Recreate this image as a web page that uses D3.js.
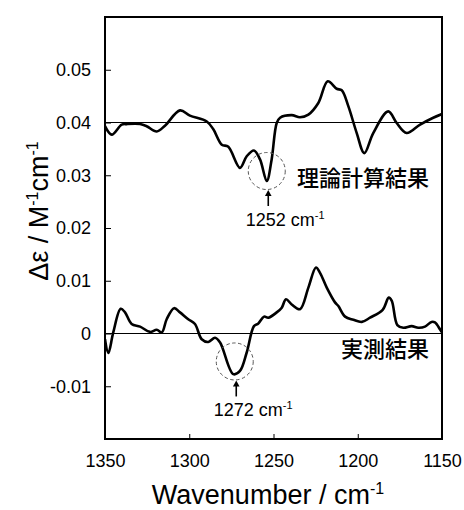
<!DOCTYPE html>
<html>
<head>
<meta charset="utf-8">
<script src="https://cdn.jsdelivr.net/npm/d3@7"></script>
<style>
  html, body { margin: 0; padding: 0; background: #fff; }
  svg { display: block; }
  text { font-family: "Liberation Sans", Arial, sans-serif; fill: #000; }
</style>
</head>
<body>
<svg id="chart" width="464" height="510"></svg>
<script>
// ---- data ----
const xTicks = [1350, 1300, 1250, 1200, 1150];
const yTicks = [-0.01, 0, 0.01, 0.02, 0.03, 0.04, 0.05];
const yTickLabels = ["-0.01", "0", "0.01", "0.02", "0.03", "0.04", "0.05"];
const refLines = [0.04, 0];

// theoretical (offset +0.04)
const calcWn = [1350, 1346.0, 1340.1, 1337.1, 1329.2, 1325.3, 1319.3, 1314.4, 1305.5, 1299.6,
  1289.6, 1285.7, 1280.7, 1276.8, 1269.9, 1265.9, 1261.6, 1258.0, 1254.0, 1251.1,
  1248.1, 1246.1, 1239.2, 1234.3, 1229.3, 1223.4, 1217.8, 1212.5, 1209.5, 1205.6,
  1200.6, 1196.1, 1190.8, 1181.9, 1176.9, 1171.0, 1163.0, 1155.2, 1150];
const calcVal = [0.0393, 0.0377, 0.0396, 0.0397, 0.0397, 0.0393, 0.0383, 0.0394, 0.0423, 0.0413,
  0.0402, 0.0387, 0.0358, 0.0354, 0.0314, 0.0336, 0.0347, 0.0330, 0.0289, 0.0330,
  0.0399, 0.0409, 0.0414, 0.0410, 0.0415, 0.0437, 0.0478, 0.0464, 0.0461, 0.0431,
  0.0380, 0.0342, 0.0380, 0.0421, 0.0399, 0.0380, 0.0396, 0.0409, 0.0416];

// experimental
const expWn = [1350, 1348.0, 1345.1, 1340.7, 1338.1, 1334.2, 1329.2, 1323.3, 1319.3, 1316.3,
  1313.4, 1309.0, 1305.5, 1300.6, 1296.6, 1292.6, 1288.7, 1284.7, 1281.7, 1273.9,
  1269.9, 1265.9, 1261.6, 1259.0, 1255.6, 1253.1, 1248.1, 1245.1, 1242.6, 1239.2,
  1234.3, 1229.3, 1224.8, 1222.4, 1218.4, 1213.5, 1211.5, 1207.5, 1202.6, 1197.6,
  1192.7, 1185.2, 1181.6, 1179.8, 1176.5, 1173.0, 1168.0, 1164.1, 1160.1, 1156.2,
  1154.2, 1151.2, 1150];
const expVal = [-0.0011, -0.0037, 0.0002, 0.0047, 0.0040, 0.0018, 0.0013, 0.0003, 0.0007, 0.0002,
  0.0027, 0.0048, 0.0040, 0.0027, 0.0018, -0.0011, -0.0016, -0.0008, -0.0017, -0.0077,
  -0.0071, -0.0036, 0.0014, 0.0019, 0.0032, 0.0030, 0.0040, 0.0049, 0.0065, 0.0055,
  0.0046, 0.0087, 0.0125, 0.0115, 0.0087, 0.0059, 0.0052, 0.0032, 0.0026, 0.0022,
  0.0030, 0.0045, 0.0068, 0.0062, 0.0016, 0.0011, 0.0014, 0.0011, 0.0013, 0.0022,
  0.0021, 0.0008, 0.0002];

// annotations: circled peaks
const peakWn = [1254, 1273];
const peakVal = [0.0308, -0.0053];
const peakLabels = ["1252", "1272"];
const seriesLabels = ["理論計算結果", "実測結果"];
const seriesLabelVal = [0.0279, -0.0045];

// ---- layout ----
const svg = d3.select("#chart");
const L = 105, R = 442, T = 17, B = 439;
const x = d3.scaleLinear().domain([1350, 1150]).range([L, R]);
const y = d3.scaleLinear().domain([-0.02, 0.06]).range([B, T]);

// reference lines
svg.selectAll("line.ref").data(refLines).enter().append("line")
  .attr("x1", L).attr("x2", R)
  .attr("y1", d => y(d)).attr("y2", d => y(d))
  .attr("stroke", "#000").attr("stroke-width", 1);

// y axis
const yAxis = d3.axisLeft(y).tickValues(yTicks).tickSize(-6).tickPadding(14)
  .tickFormat((d, i) => yTickLabels[i]);
const gy = svg.append("g").attr("transform", `translate(${L},0)`).call(yAxis);
gy.select(".domain").remove();
gy.selectAll(".tick line").attr("stroke", "#000").attr("stroke-width", 1);
gy.selectAll(".tick text").attr("font-size", 18).attr("font-family", "Liberation Sans, Arial, sans-serif").attr("fill", "#000");

// x axis
const xAxis = d3.axisBottom(x).tickValues(xTicks).tickSize(-5).tickPadding(15)
  .tickFormat(d3.format("d"));
const gx = svg.append("g").attr("transform", `translate(0,${B})`).call(xAxis);
gx.select(".domain").remove();
gx.selectAll(".tick line").attr("stroke", "#000").attr("stroke-width", 1);
gx.selectAll(".tick text").attr("font-size", 18).attr("font-family", "Liberation Sans, Arial, sans-serif").attr("fill", "#000");

// curves
const line = d3.line().x(d => x(d[0])).y(d => y(d[1])).curve(d3.curveCatmullRom.alpha(0.5));
const series = [d3.zip(calcWn, calcVal), d3.zip(expWn, expVal)];
svg.append("defs").append("clipPath").attr("id", "clip")
  .append("rect").attr("x", L).attr("y", T).attr("width", R - L).attr("height", B - T);
svg.selectAll("path.curve").data(series).enter().append("path")
  .attr("class", "curve")
  .attr("clip-path", "url(#clip)")
  .attr("d", line)
  .attr("fill", "none").attr("stroke", "#000").attr("stroke-width", 2.6)
  .attr("stroke-linejoin", "round");

// frame
svg.append("rect").attr("x", L).attr("y", T).attr("width", R - L).attr("height", B - T)
  .attr("fill", "none").attr("stroke", "#000").attr("stroke-width", 2);

// annotations
const ann = svg.selectAll("g.ann").data(peakWn).enter().append("g").attr("class", "ann")
  .attr("transform", (d, i) => `translate(${x(d)},${y(peakVal[i])})`);
ann.append("circle").attr("r", 18.5).attr("fill", "none")
  .attr("stroke", "#555").attr("stroke-width", 1).attr("stroke-dasharray", "3.5,2.5");
ann.append("line").attr("x1", 1.5).attr("x2", 1.5).attr("y1", 23).attr("y2", 35)
  .attr("stroke", "#000").attr("stroke-width", 1.6);
ann.append("path").attr("d", "M1.5,19 L-1.8,25 L4.8,25 Z").attr("fill", "#000");
const lbl = ann.append("text").attr("x", -21).attr("y", 55).attr("font-size", 18);
lbl.append("tspan").text((d, i) => peakLabels[i] + " cm");
lbl.append("tspan").attr("dy", -7).attr("font-size", 11).text("-1");

// series labels
svg.selectAll("text.slabel").data(seriesLabels).enter().append("text")
  .attr("class", "slabel")
  .attr("x", 429).attr("y", (d, i) => y(seriesLabelVal[i]))
  .attr("text-anchor", "end")
  .style("font-family", "'Noto Sans CJK JP', sans-serif")
  .attr("font-size", 22)
  .attr("font-weight", 500)
  .text(d => d);

// axis titles
const xt = svg.append("text").attr("x", 268).attr("y", 504)
  .attr("text-anchor", "middle").attr("font-size", 27);
xt.append("tspan").text("Wavenumber / cm");
xt.append("tspan").attr("dy", -10).attr("font-size", 16).text("-1");

const yt = svg.append("text").attr("transform", `translate(48,211) rotate(-90)`)
  .attr("text-anchor", "middle").attr("font-size", 27);
yt.append("tspan").text("Δε / M");
yt.append("tspan").attr("dy", -10).attr("font-size", 16).text("-1");
yt.append("tspan").attr("dy", 10).text("cm");
yt.append("tspan").attr("dy", -10).attr("font-size", 16).text("-1");
</script>
</body>
</html>
